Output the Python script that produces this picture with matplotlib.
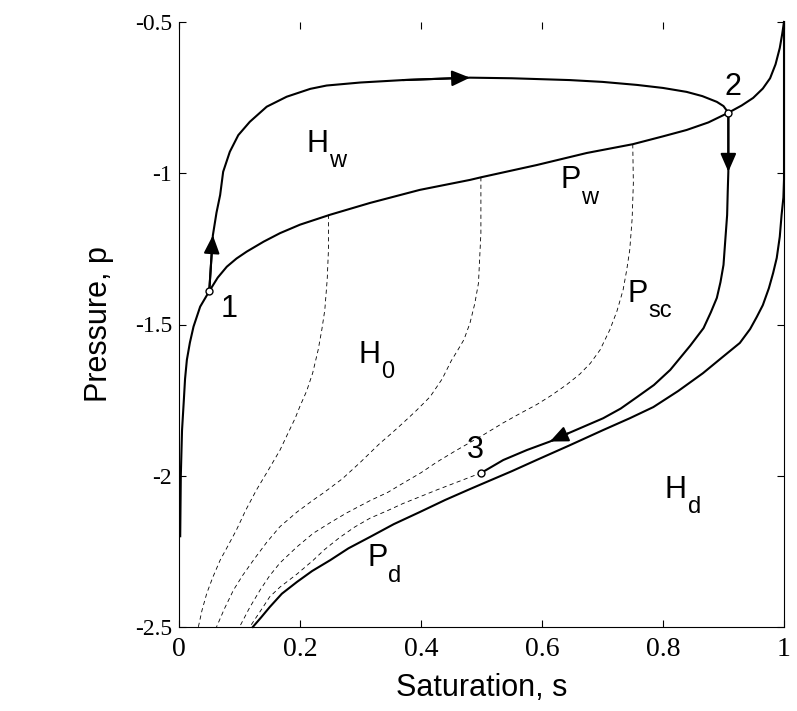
import numpy as np
import matplotlib
matplotlib.use("Agg")
import matplotlib.pyplot as plt

# ---------------- data ----------------

# main wetting curve P_w
pw_s = [0.002, 0.003, 0.005, 0.008, 0.010, 0.013, 0.018, 0.024, 0.035, 0.050,
        0.064, 0.079, 0.095, 0.112, 0.140, 0.167, 0.200, 0.250, 0.316, 0.398,
        0.481, 0.500, 0.591, 0.674, 0.750, 0.800, 0.839, 0.875, 0.908, 0.930,
        0.949, 0.965, 0.977, 0.986, 0.993, 0.997, 1.000]
pw_p = [-2.20, -2.00, -1.85, -1.75, -1.68, -1.617, -1.56, -1.507, -1.441, -1.39,
        -1.345, -1.309, -1.282, -1.259, -1.226, -1.198, -1.17, -1.137, -1.098, -1.055,
        -1.022, -1.013, -0.973, -0.933, -0.904, -0.878, -0.857, -0.832, -0.80, -0.776,
        -0.751, -0.72, -0.686, -0.64, -0.586, -0.54, -0.50]

# main drying curve P_d
pd_s = [0.122, 0.135, 0.150, 0.170, 0.195, 0.220, 0.250, 0.280, 0.316, 0.355,
        0.398, 0.440, 0.481, 0.509, 0.550, 0.591, 0.645, 0.701, 0.745, 0.784,
        0.825, 0.866, 0.897, 0.927, 0.944, 0.955, 0.965, 0.975, 0.982, 0.988,
        0.993, 0.996, 0.999, 1.000, 1.000]
pd_p = [-2.50, -2.47, -2.434, -2.39, -2.351, -2.315, -2.279, -2.24, -2.202, -2.16,
        -2.12, -2.08, -2.044, -2.02, -1.985, -1.948, -1.90, -1.849, -1.81, -1.773,
        -1.72, -1.661, -1.61, -1.561, -1.515, -1.475, -1.436, -1.38, -1.33, -1.28,
        -1.21, -1.138, -1.08, -1.02, -0.50]

# dashed scanning curves P_sc
sc_a_s = [0.247, 0.247, 0.245, 0.241, 0.236, 0.230, 0.221, 0.211, 0.200, 0.192,
          0.180, 0.167, 0.148, 0.128, 0.110, 0.095, 0.080, 0.068, 0.056, 0.046,
          0.038, 0.032]
sc_a_p = [-1.137, -1.254, -1.35, -1.452, -1.518, -1.584, -1.66, -1.72, -1.77, -1.81,
          -1.86, -1.915, -1.98, -2.047, -2.115, -2.179, -2.235, -2.279, -2.335, -2.388,
          -2.445, -2.50]
sc_b_s = [0.499, 0.499, 0.499, 0.497, 0.495, 0.489, 0.481, 0.471, 0.461, 0.450,
          0.435, 0.415, 0.392, 0.370, 0.350, 0.332, 0.300, 0.270, 0.240, 0.222,
          0.195, 0.167, 0.145, 0.123, 0.105, 0.090, 0.075, 0.062]
sc_b_p = [-1.013, -1.10, -1.198, -1.28, -1.363, -1.43, -1.495, -1.55, -1.584, -1.62,
          -1.68, -1.739, -1.785, -1.826, -1.862, -1.893, -1.955, -2.01, -2.055, -2.08,
          -2.12, -2.168, -2.22, -2.279, -2.33, -2.378, -2.44, -2.50]
sc_c_s = [0.750, 0.751, 0.749, 0.745, 0.740, 0.734, 0.724, 0.712, 0.696, 0.680,
          0.662, 0.640, 0.615, 0.591, 0.563, 0.536, 0.503, 0.481, 0.455, 0.426,
          0.400, 0.370, 0.345, 0.316, 0.277, 0.250, 0.222, 0.195, 0.167, 0.150,
          0.134, 0.117, 0.100]
sc_c_p = [-0.904, -1.032, -1.15, -1.254, -1.32, -1.386, -1.455, -1.518, -1.584, -1.628,
          -1.665, -1.70, -1.735, -1.765, -1.795, -1.825, -1.865, -1.89, -1.92, -1.955,
          -1.99, -2.025, -2.055, -2.082, -2.123, -2.155, -2.19, -2.235, -2.288, -2.33,
          -2.378, -2.435, -2.50]
sc_d_s = [0.500, 0.465, 0.426, 0.400, 0.370, 0.345, 0.316, 0.290, 0.265, 0.240,
          0.222, 0.195, 0.167, 0.150, 0.139, 0.128, 0.117]
sc_d_p = [-1.99, -2.017, -2.047, -2.068, -2.092, -2.115, -2.14, -2.17, -2.205, -2.245,
          -2.279, -2.325, -2.368, -2.40, -2.434, -2.467, -2.50]

# process path 1 -> 2 (wetting) and 2 -> 3 (drying)
path12_s = [0.050, 0.056, 0.062, 0.068, 0.073, 0.084, 0.098, 0.117, 0.145, 0.178,
            0.217, 0.244, 0.300, 0.370, 0.481, 0.550, 0.646, 0.700, 0.757, 0.800,
            0.839, 0.865, 0.889, 0.900, 0.908]
path12_p = [-1.39, -1.205, -1.13, -1.072, -0.995, -0.929, -0.874, -0.83, -0.78, -0.747,
            -0.721, -0.71, -0.70, -0.692, -0.684, -0.686, -0.692, -0.698, -0.708, -0.718,
            -0.731, -0.745, -0.764, -0.778, -0.80]
path23_s = [0.908, 0.908, 0.907, 0.906, 0.903, 0.900, 0.895, 0.889, 0.879, 0.867,
            0.845, 0.812, 0.785, 0.757, 0.730, 0.701, 0.643, 0.613, 0.575, 0.536,
            0.500]
path23_p = [-0.80, -0.995, -1.06, -1.138, -1.22, -1.303, -1.36, -1.412, -1.46, -1.512,
            -1.57, -1.65, -1.70, -1.74, -1.778, -1.81, -1.86, -1.887, -1.915, -1.948,
            -1.99]
arrows12 = [1, 14]     # indices of arrow tips on path 1->2
arrows23 = [1, 17]     # indices of arrow tips on path 2->3

# numbered state points
pts_s = [0.050, 0.908, 0.500]
pts_p = [-1.39, -0.80, -1.99]
pts_lbl = ["1", "2", "3"]
pts_lbl_s = [0.068, 0.902, 0.476]
pts_lbl_p = [-1.474, -0.741, -1.941]

# region / curve labels
lbl_main = ["H", "P", "P", "H", "H", "P"]
lbl_sub = ["w", "w", "sc", "0", "d", "d"]
lbl_s = [0.211, 0.630, 0.742, 0.296, 0.803, 0.311]
lbl_p = [-0.929, -1.05, -1.425, -1.627, -2.074, -2.30]

xticks = [0, 0.2, 0.4, 0.6, 0.8, 1]
xticklabels = ["0", "0.2", "0.4", "0.6", "0.8", "1"]
yticks = [-2.5, -2, -1.5, -1, -0.5]
yticklabels = ["-2.5", "-2", "-1.5", "-1", "-0.5"]

# ---------------- plot ----------------

fig = plt.figure(figsize=(7.97, 7.11), dpi=100)
ax = fig.add_axes([179 / 797, 84 / 711, 605 / 797, 605 / 711])

LW = 1.5
for s, p in [(sc_a_s, sc_a_p), (sc_b_s, sc_b_p), (sc_c_s, sc_c_p), (sc_d_s, sc_d_p)]:
    ax.plot(s, p, color="k", lw=0.6, ls=(0, (5, 4)))

ax.plot(pw_s, pw_p, color="k", lw=LW, clip_on=False)
ax.plot(pd_s, pd_p, color="k", lw=LW, clip_on=False)
ax.plot(path12_s, path12_p, color="k", lw=LW)
ax.plot(path23_s, path23_p, color="k", lw=LW)

head = "-|>,head_length=0.55,head_width=0.24"
for s, p, idx in [(path12_s, path12_p, arrows12), (path23_s, path23_p, arrows23)]:
    for i in idx:
        ax.annotate("", xy=(s[i], p[i]), xytext=(s[i - 1], p[i - 1]),
                    arrowprops=dict(arrowstyle=head, color="k", lw=LW,
                                    mutation_scale=20, shrinkA=0, shrinkB=0))

ax.plot(pts_s, pts_p, "o", mfc="white", mec="k", ms=5, mew=1, zorder=5)

for t, s, p in zip(pts_lbl, pts_lbl_s, pts_lbl_p):
    ax.text(s, p, t, fontsize=22, family="Liberation Sans", va="baseline")

for m, sub, s, p in zip(lbl_main, lbl_sub, lbl_s, lbl_p):
    t = ax.text(s, p, m, fontsize=22, family="Liberation Sans", va="baseline")
    ax.annotate(sub, xy=(1, 0), xycoords=t, xytext=(0.5, -6),
                textcoords="offset points", fontsize=17,
                family="Liberation Sans", va="baseline")

ax.set_xlim(0, 1)
ax.set_ylim(-2.5, -0.5)
ax.set_xticks(xticks)
ax.set_xticklabels(xticklabels, family="Liberation Serif", fontsize=20)
ax.set_yticks(yticks)
ax.set_yticklabels(yticklabels, family="Liberation Serif", fontsize=17)
ax.tick_params(direction="in", length=5, width=0.8, top=True, right=True)
ax.tick_params(axis="x", pad=7)
ax.tick_params(axis="y", pad=5)
ax.spines["top"].set_visible(False)
for side in ["left", "bottom", "right"]:
    ax.spines[side].set_linewidth(0.8)

ax.set_xlabel("Saturation, s", family="Liberation Sans", fontsize=22, labelpad=8)
ax.set_ylabel("Pressure, p", family="Liberation Sans", fontsize=22, labelpad=15)

fig.savefig("out.png", dpi=100)
